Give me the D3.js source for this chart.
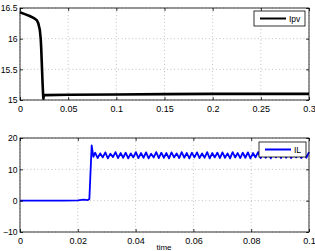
<!DOCTYPE html>
<html><head><meta charset="utf-8">
<script src="https://cdn.jsdelivr.net/npm/d3@7"></script>
<style>body{margin:0;background:#fff}svg{display:block}text{font-family:"Liberation Sans",Arial,sans-serif}</style>
</head><body><svg id="c" width="315" height="251"></svg>
<script>
// Top panel: Ipv
const ipvTime = [0,0.005,0.01,0.015,0.0175,0.019,0.0205,0.0215,0.022,0.0225,0.023,0.0235,0.024,0.0243,0.0247,0.026,0.05,0.1,0.15,0.2,0.25,0.3];
const ipvVals = [16.43,16.40,16.37,16.33,16.30,16.25,16.15,16.00,15.85,15.65,15.45,15.25,15.08,15.02,15.08,15.08,15.085,15.09,15.095,15.10,15.10,15.10];
const topXTicks = [0,0.05,0.1,0.15,0.2,0.25,0.3];
const topYTicks = [15,15.5,16,16.5];

// Bottom panel: IL
const ilPreTime = [0,0.005,0.01,0.015,0.02,0.022,0.0235,0.0240,0.0248,0.0254];
const ilPreVals = [0,0,0,0,0.1,0.3,0.2,0.5,17.6,14.0];
const ilOscStart = 0.0260, ilOscEnd = 0.1;
const ilOscVals = [15.3,13.6,15.1,13.8,15.4,13.5,15.0,13.9,15.5,13.6,15.2,13.7,15.3,13.5,15.1,13.8,15.5,13.6,15.2,13.7,
15.4,13.5,15.0,13.8,15.5,13.6,15.3,13.7,15.2,13.5,15.4,13.8,15.1,13.6,15.5,13.7,15.2,13.5,15.3,13.8,
15.4,13.6,15.1,13.7,15.5,13.5,15.2,13.8,15.3,13.6,15.4,13.7,15.1,13.5,15.5,13.8,15.2,13.6,15.3,13.7,
15.4,13.5,15.2,13.8,15.5,13.6,15.1,13.7,15.3,13.5,15.4,13.8,15.2,13.6,15.5,13.7,15.3,13.6,15.2,13.8,
15.4,13.6,15.3,13.7,15.5];
const botXTicks = [0,0.02,0.04,0.06,0.08,0.1];
const botYTicks = [-10,0,10,20];

const svg = d3.select("#c");
const fmt = d => d < 0 ? "\u221210" : String(d);

function panel(o){
  const x = d3.scaleLinear().domain(o.xd).range([20,309]);
  const y = d3.scaleLinear().domain(o.yd).range([o.y1,o.y0]);
  const g = svg.append("g");
  // grid
  g.selectAll(".gx").data(o.xt).enter().append("line")
    .attr("x1",d=>x(d)).attr("x2",d=>x(d)).attr("y1",o.y0).attr("y2",o.y1)
    .attr("stroke","#aaa").attr("stroke-width",0.7).attr("stroke-dasharray","1,2.5");
  g.selectAll(".gy").data(o.yt).enter().append("line")
    .attr("x1",20).attr("x2",309).attr("y1",d=>y(d)).attr("y2",d=>y(d))
    .attr("stroke","#aaa").attr("stroke-width",0.7).attr("stroke-dasharray","1,2.5");
  // data
  const line = d3.line().x(d=>x(d[0])).y(d=>y(d[1]));
  g.append("path").datum(o.data).attr("d",line).attr("fill","none")
    .attr("stroke",o.color).attr("stroke-width",o.sw).attr("stroke-linejoin","round");
  // axes
  const ax = d3.axisBottom(x).tickValues(o.xt).tickSize(-3).tickPadding(6).tickFormat(d=>String(d));
  const axT = d3.axisTop(x).tickValues(o.xt).tickSize(-3).tickFormat("");
  const ay = d3.axisLeft(y).tickValues(o.yt).tickSize(-3).tickPadding(2.5).tickFormat(fmt);
  const ayR = d3.axisRight(y).tickValues(o.yt).tickSize(-3).tickFormat("");
  [[ax,`translate(0,${o.y1})`,9],[axT,`translate(0,${o.y0})`,9],[ay,"translate(20,0)",8.6],[ayR,"translate(309,0)",9]].forEach(([a,t,fs])=>{
    const s = g.append("g").attr("transform",t).call(a);
    s.select(".domain").remove();
    s.selectAll("line").attr("stroke","#000").attr("stroke-width",0.8);
    s.selectAll("text").attr("font-size",fs).attr("fill","#000");
  });
  g.append("rect").attr("x",20).attr("y",o.y0).attr("width",289).attr("height",o.y1-o.y0)
    .attr("fill","none").attr("stroke","#000").attr("stroke-width",0.8);
  // legend
  const L = o.leg;
  g.append("rect").attr("x",L.x).attr("y",L.y).attr("width",L.w).attr("height",15)
    .attr("fill","#fff").attr("stroke","#000").attr("stroke-width",0.8);
  g.append("line").attr("x1",L.x+6).attr("x2",L.x+32).attr("y1",L.y+7.5).attr("y2",L.y+7.5)
    .attr("stroke",o.color).attr("stroke-width",2);
  g.append("text").attr("x",L.x+35).attr("y",L.y+10.5).attr("font-size",8.5).text(L.label);
  return {x,y};
}

panel({xd:[0,0.3], yd:[15,16.5], y0:8, y1:100, xt:topXTicks, yt:topYTicks,
  data: ipvTime.map((t,i)=>[t,ipvVals[i]]), color:"#000", sw:2.6,
  leg:{x:254,y:11,w:51,label:"Ipv"}});

const step = (ilOscEnd-ilOscStart)/(ilOscVals.length-1);
const ilData = ilPreTime.map((t,i)=>[t,ilPreVals[i]]).concat(ilOscVals.map((v,i)=>[ilOscStart+i*step,v]));
panel({xd:[0,0.1], yd:[-10,20], y0:138, y1:232, xt:botXTicks, yt:botYTicks,
  data: ilData, color:"#0000ff", sw:1.8,
  leg:{x:259,y:142,w:47,label:"IL"}});

svg.append("text").attr("x",164).attr("y",250).attr("text-anchor","middle").attr("font-size",8).text("time");
</script></body></html>
